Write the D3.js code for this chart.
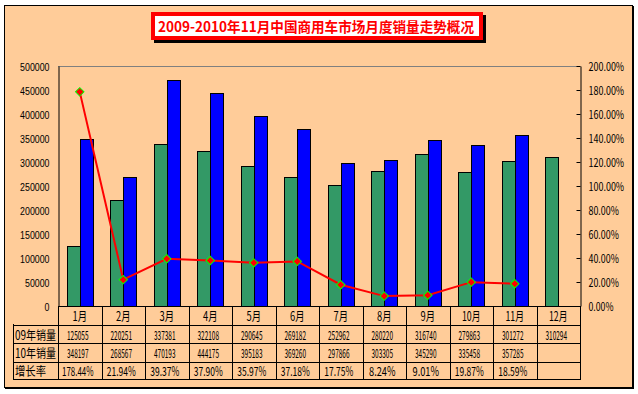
<!DOCTYPE html>
<html>
<head>
<meta charset="utf-8">
<script src="https://cdn.jsdelivr.net/npm/d3@7.9.0/dist/d3.min.js"></script>
<style>
  body { margin: 0; background: #fff; }
  svg { display: block; }
</style>
</head>
<body>
<svg id="chart" width="638" height="394"></svg>
<script>
// chart data
const months = ['1月', '2月', '3月', '4月', '5月', '6月', '7月', '8月', '9月', '10月', '11月', '12月'];
const sales09 = [125055, 220251, 337381, 322108, 290645, 269182, 252962, 280220, 316740, 279863, 301272, 310294];
const sales10 = [348197, 268567, 470193, 444175, 395183, 369260, 297866, 303305, 345290, 335458, 357285];
const growth = [178.44, 21.94, 39.37, 37.90, 35.97, 37.18, 17.75, 8.24, 9.01, 19.87, 18.59];
const leftTicks = [0, 50000, 100000, 150000, 200000, 250000, 300000, 350000, 400000, 450000, 500000];
const rightTicks = [0, 20, 40, 60, 80, 100, 120, 140, 160, 180, 200];
const rowLabels = ['09年销量', '10年销量', '增长率'];
const title = '2009-2010年11月中国商用车市场月度销量走势概况';

const cjk = '"Noto Sans CJK SC", "Noto Sans", sans-serif';
const svg = d3.select('#chart');

// outer frame
svg.append('rect')
  .attr('x', 4.5).attr('y', 5.5).attr('width', 628).attr('height', 382)
  .attr('fill', '#FFCC99').attr('stroke', '#000');
svg.append('path').attr('d', 'M633.5,6V389M5,388.5H634').attr('stroke', '#000');

// title box
svg.append('rect').attr('x', 154).attr('y', 15).attr('width', 332).attr('height', 28).attr('fill', '#000');
svg.append('rect')
  .attr('x', 153).attr('y', 14).attr('width', 328).attr('height', 24)
  .attr('fill', '#fff').attr('stroke', '#FF0000').attr('stroke-width', 4);
svg.append('text')
  .attr('x', 316).attr('y', 32)
  .attr('text-anchor', 'middle')
  .attr('textLength', 316).attr('lengthAdjust', 'spacingAndGlyphs')
  .attr('font-family', cjk).attr('font-weight', 'bold').attr('font-size', 14)
  .attr('fill', '#FF0000')
  .text(title);

// scales
const plotTop = 66, plotBottom = 306, plotLeft = 58, plotRight = 580;
const x = d3.scaleBand().domain(months).range([plotLeft, plotRight]);
const yL = d3.scaleLinear().domain([0, 500000]).range([plotBottom, plotTop]);
const yR = d3.scaleLinear().domain([0, 200]).range([plotBottom, plotTop]);

// plot area top border
svg.append('line')
  .attr('x1', plotLeft).attr('x2', plotRight).attr('y1', plotTop + 0.5).attr('y2', plotTop + 0.5)
  .attr('stroke', '#808080');

// bars
const bw = x.bandwidth() * 0.3;
const cx = (m) => x(m) + x.bandwidth() / 2;

svg.append('g').selectAll('rect')
  .data(sales09)
  .join('rect')
  .attr('x', (d, i) => Math.round(cx(months[i]) - bw) + 0.5)
  .attr('y', (d) => Math.round(yL(d)) + 0.5)
  .attr('width', Math.round(bw))
  .attr('height', (d) => plotBottom - Math.round(yL(d)))
  .attr('fill', '#339966').attr('stroke', '#000');

svg.append('g').selectAll('rect')
  .data(sales10)
  .join('rect')
  .attr('x', (d, i) => Math.round(cx(months[i])) + 0.5)
  .attr('y', (d) => Math.round(yL(d)) + 0.5)
  .attr('width', Math.round(bw))
  .attr('height', (d) => plotBottom - Math.round(yL(d)))
  .attr('fill', '#0000FF').attr('stroke', '#000');

// left axis
const gL = svg.append('g')
  .attr('transform', `translate(${plotLeft + 0.5},0)`)
  .call(d3.axisLeft(yL).tickValues(leftTicks).tickSize(0).tickPadding(9).tickFormat(d3.format('d')));
gL.select('.domain').attr('stroke', '#000');
gL.selectAll('text')
  .attr('font-family', '"Liberation Sans", Arial, sans-serif').attr('font-size', 11.5)
  .attr('fill', '#000').attr('dy', '0.42em')
  .attr('textLength', (d) => String(d).length * 4.9)
  .attr('lengthAdjust', 'spacingAndGlyphs');

// right axis
const gR = svg.append('g')
  .attr('transform', `translate(${plotRight + 0.5},0)`)
  .call(d3.axisRight(yR).tickValues(rightTicks).tickSizeInner(-4).tickSizeOuter(0).tickPadding(8)
    .tickFormat((d) => d.toFixed(2) + '%'));
gR.selectAll('line, .domain').attr('stroke', '#000');
gR.selectAll('text')
  .attr('font-family', cjk).attr('font-size', 11.5)
  .attr('fill', '#000').attr('dy', '0.42em')
  .attr('textLength', (d) => (d.toFixed(2) + '%').length * 5.3 - 1.5)
  .attr('lengthAdjust', 'spacingAndGlyphs');

// growth line
const line = d3.line()
  .x((d, i) => cx(months[i]))
  .y((d) => yR(d));
svg.append('path')
  .datum(growth)
  .attr('d', line)
  .attr('fill', 'none').attr('stroke', '#FF0000').attr('stroke-width', 2);

svg.append('g').selectAll('path')
  .data(growth)
  .join('path')
  .attr('d', d3.symbol(d3.symbolSquare, 36))
  .attr('transform', (d, i) => `translate(${cx(months[i])},${yR(d)}) rotate(45)`)
  .attr('fill', '#FF0000').attr('stroke', '#00FF00').attr('stroke-width', 1);

// category axis and data table
const tableBottom = 379;
const rowLines = [324.5, 343, 361.5, 379];
const bounds = months.map((m) => x(m)).concat([plotRight]);
const grid = svg.append('g').attr('stroke', '#000');

grid.append('line')
  .attr('x1', plotLeft).attr('x2', plotRight + 1).attr('y1', plotBottom + 0.5).attr('y2', plotBottom + 0.5);
grid.selectAll('.col')
  .data(bounds)
  .join('line')
  .attr('x1', (d) => Math.round(d) + 0.5).attr('x2', (d) => Math.round(d) + 0.5)
  .attr('y1', plotBottom).attr('y2', tableBottom + 0.5);
grid.selectAll('.row')
  .data(rowLines)
  .join('line')
  .attr('x1', 13).attr('x2', plotRight + 1)
  .attr('y1', (d) => Math.round(d) + 0.5).attr('y2', (d) => Math.round(d) + 0.5);
grid.append('line')
  .attr('x1', 13.5).attr('x2', 13.5).attr('y1', 324).attr('y2', tableBottom + 0.5);

const tbl = svg.append('g').attr('font-family', cjk).attr('font-size', 12.5).attr('fill', '#000');

// month header
tbl.selectAll('.month')
  .data(months)
  .join('text')
  .attr('x', (d) => cx(d))
  .attr('y', 321)
  .attr('text-anchor', 'middle')
  .attr('textLength', (d) => 10.5 + (d.length - 1) * 4)
  .attr('lengthAdjust', 'spacingAndGlyphs')
  .text((d) => d);

// row labels
tbl.selectAll('.label')
  .data(rowLabels)
  .join('text')
  .attr('x', 15)
  .attr('y', (d, i) => [339.5, 358, 376][i])
  .attr('textLength', (d) => (d.length === 5 ? 41 : 31))
  .attr('lengthAdjust', 'spacingAndGlyphs')
  .text((d) => d);

// row values
const rows = [
  sales09.map(String),
  sales10.map(String),
  growth.map((g) => g.toFixed(2) + '%'),
];
rows.forEach((vals, r) => {
  tbl.append('g').selectAll('text')
    .data(vals)
    .join('text')
    .attr('x', (d, i) => cx(months[i]) - 2)
    .attr('y', [339.5, 358, 376][r])
    .attr('text-anchor', 'middle')
    .attr('textLength', (d) => (r < 2 ? d.length * 3.6 : 14 + d.length * 2.5))
    .attr('lengthAdjust', 'spacingAndGlyphs')
    .text((d) => d);
});
</script>
</body>
</html>
